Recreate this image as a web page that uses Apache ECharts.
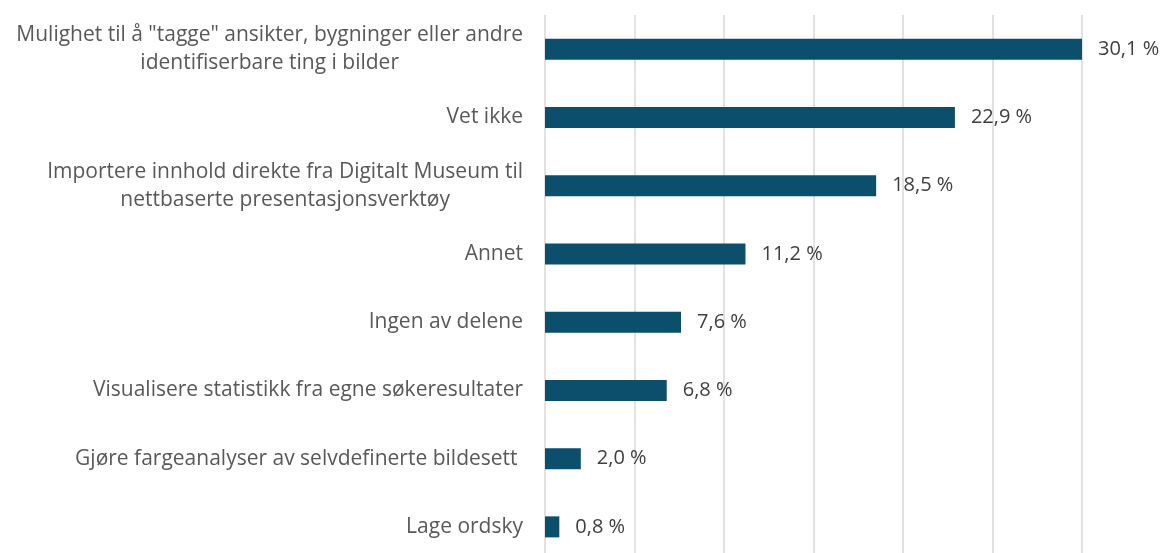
<!DOCTYPE html>
<html>
<head>
<meta charset="utf-8">
<script src="https://cdn.jsdelivr.net/npm/echarts@6/dist/echarts.min.js"></script>
<style>
  html, body { margin: 0; padding: 0; background: #fff; overflow: hidden; }
  #main { width: 1165px; height: 570px; }
</style>
</head>
<body>
<div id="main"></div>
<script>
var categories = [
  'Mulighet til å "tagge" ansikter, bygninger eller andre\nidentifiserbare ting i bilder',
  'Vet ikke',
  'Importere innhold direkte fra Digitalt Museum til\nnettbaserte presentasjonsverktøy',
  'Annet',
  'Ingen av delene',
  'Visualisere statistikk fra egne søkeresultater',
  'Gjøre fargeanalyser av selvdefinerte bildesett ',
  'Lage ordsky'
];
var values = [30.1, 22.9, 18.5, 11.2, 7.6, 6.8, 2.0, 0.8];

var myChart = echarts.init(document.getElementById('main'));

var option = {
  animation: false,
  textStyle: { fontFamily: 'Open Sans' },
  grid: {
    left: 545,
    right: 83,
    top: 15,
    bottom: 9,
    containLabel: false
  },
  xAxis: {
    type: 'value',
    min: 0,
    max: 30,
    interval: 5,
    axisLabel: { show: false },
    axisLine: { show: false },
    axisTick: { show: false },
    splitLine: { lineStyle: { color: '#d9d9d9', width: 1.5 } }
  },
  yAxis: {
    type: 'category',
    inverse: true,
    data: categories,
    axisLine: { show: false },
    axisTick: { show: false },
    axisLabel: {
      margin: 22,
      color: '#595959',
      formatter: function (v) {
        return v.split('\n').map(function (s) { return '{c|' + s + '}'; }).join('\n');
      },
      rich: {
        c: { align: 'center', fontSize: 21, lineHeight: 28, color: '#595959', fontFamily: 'Open Sans' }
      }
    }
  },
  series: [{
    type: 'bar',
    data: values,
    barWidth: 21,
    itemStyle: { color: '#0b4f6c' },
    label: {
      show: true,
      position: 'right',
      distance: 16,
      color: '#404040',
      fontSize: 20,
      fontFamily: 'Open Sans',
      formatter: function (p) {
        return p.value.toFixed(1).replace('.', ',') + ' %';
      }
    }
  }]
};

myChart.setOption(option);
</script>
</body>
</html>
